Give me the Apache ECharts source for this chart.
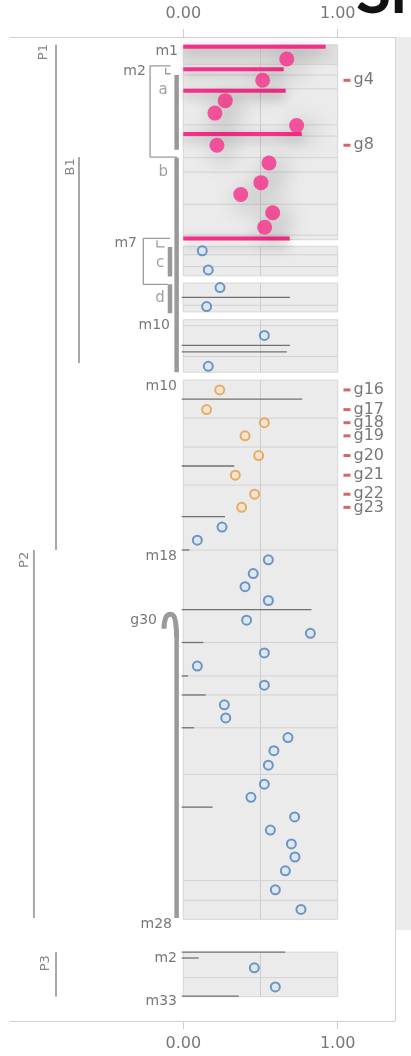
<!DOCTYPE html>
<html>
<head>
<meta charset="utf-8">
<script src="https://cdn.jsdelivr.net/npm/echarts@6/dist/echarts.min.js"></script>
<style>
html, body { margin: 0; padding: 0; background: #fff; }
#chart { width: 411px; height: 1056px; }
</style>
</head>
<body>
<div id="chart"></div>
<script>
// values; y is a row position down the track (0 = top)
const pinkX = [0.670, 0.514, 0.272, 0.205, 0.734, 0.218, 0.555, 0.503, 0.372, 0.579, 0.527];
const pinkY = [3.35, 6.6, 9.7, 11.6, 13.5, 16.5, 19.2, 22.2, 24.0, 26.8, 29.0];
const pinkBarY = [1.5, 4.9, 8.2, 14.8, 30.7];
const pinkBarEnd = [0.922, 0.65, 0.663, 0.767, 0.689];

const blueX = [0.123, 0.162, 0.238, 0.151, 0.525, 0.162, 0.251, 0.091, 0.551, 0.453, 0.4, 0.551, 0.41, 0.823, 0.525, 0.091,
  0.525, 0.266, 0.275, 0.678, 0.587, 0.551, 0.525, 0.438, 0.721, 0.564, 0.7, 0.723, 0.661, 0.596, 0.762, 0.46, 0.596];
const blueY = [32.6, 35.5, 38.2, 41.1, 45.5, 50.2, 74.7, 76.7, 79.7, 81.8, 83.8, 85.9, 88.9, 90.9, 93.9, 95.9,
  98.8, 101.8, 103.8, 106.8, 108.8, 111.0, 113.9, 115.9, 118.9, 120.9, 123.0, 125.0, 127.1, 130.0, 133.0, 141.9, 144.8];

const orangeX = [0.236, 0.151, 0.525, 0.4, 0.488, 0.337, 0.462, 0.378];
const orangeY = [53.8, 56.8, 58.8, 60.8, 63.8, 66.8, 69.7, 71.7];

const tagNames = ['g4', 'g8', 'g16', 'g17', 'g18', 'g19', 'g20', 'g21', 'g22', 'g23'];
const tagY = [6.6, 16.5, 53.8, 56.8, 58.8, 60.8, 63.8, 66.8, 69.7, 71.7];

const panelTop = [1.2, 4.2, 31.9, 37.5, 43.1, 52.3, 139.5];
const panelBottom = [4.2, 30.9, 36.4, 41.9, 51.1, 134.5, 146.3];

const gridLineY = [5.8, 7.9, 13.4, 15.1, 18.4, 20.6, 25.5, 30.2, 33.2, 35.0, 40.9, 44.0, 48.7,
  58.1, 62.5, 68.3, 78.2, 92.3, 97.4, 100.3, 105.3, 112.4, 128.6, 131.6, 143.4];
const ruleY = [39.7, 47.0, 48.0, 55.2, 65.4, 73.1, 78.2, 87.3, 92.3, 97.4, 100.3, 105.3, 117.4, 139.5, 140.4, 146.2];
const ruleEnd = [0.69, 0.69, 0.67, 0.77, 0.33, 0.27, 0.04, 0.83, 0.13, 0.03, 0.145, 0.07, 0.19, 0.66, 0.1, 0.36];

const rowLabels = ['m1', 'm2', 'm7', 'm10', 'm10', 'm18', 'g30', 'm28', 'm2', 'm33'];
const rowLabelY = [2.2, 5.2, 31.4, 43.9, 53.2, 79.1, 89.0, 135.3, 140.4, 147.0];
const rowLabelX = [-0.034, -0.242, -0.30, -0.086, -0.041, -0.041, -0.17, -0.073, -0.041, -0.041];

const clusterLabels = ['a', 'b', 'c', 'd'];
const clusterY = [8.1, 20.6, 34.5, 39.8];
const clusterX = [-0.13, -0.13, -0.15, -0.15];

const partLabels = ['P1', 'B1', 'P2', 'P3'];
const partLabelX = [-0.906, -0.727, -1.025, -0.894];
const partLabelY = [2.3, 19.8, 79.7, 141.2];
const partLineX = [-0.824, -0.675, -0.967, -0.824];
const partFrom = [1.2, 18.3, 78.2, 139.5];
const partTo = [78.2, 49.7, 134.3, 146.3];

const brackets = [
  [[-0.082, 4.4], [-0.215, 4.4], [-0.215, 18.3], [-0.04, 18.3]],
  [[-0.114, 4.7], [-0.114, 5.6], [-0.082, 5.6]],
  [[-0.086, 30.7], [-0.259, 30.7], [-0.259, 37.7], [-0.1, 37.7]],
  [[-0.17, 31.0], [-0.17, 32.0], [-0.12, 32.0]]
];
const thickBars = [
  [[-0.043, 5.8], [-0.043, 17.2]],
  [[-0.043, 18.4], [-0.043, 51.1]],
  [[-0.086, 32.0], [-0.086, 36.5]],
  [[-0.086, 37.7], [-0.086, 42.1]],
  [[-0.043, 91.0], [-0.043, 134.3]]
];
const hook = [[-0.125, 90.2], [-0.115, 88.6], [-0.08, 88.0], [-0.05, 89.2], [-0.043, 91.5]];

const FONT = 'DejaVu Sans';
const PINK = '#f72f8a';

const chart = echarts.init(document.getElementById('chart'));

function xAxisOf(pos) {
  return {
    type: 'value', position: pos, min: -1.122, max: 1.371,
    axisLine: { show: true, lineStyle: { color: '#cfcfcf' } },
    axisTick: { show: true, length: 8, customValues: [0, 1], lineStyle: { color: '#cfcfcf' } },
    axisLabel: { customValues: [0, 1], formatter: v => v.toFixed(2), color: '#777', fontFamily: FONT, fontSize: 16, margin: 15 },
    splitLine: { show: false }
  };
}

function lineSeries(pts, width, smooth) {
  return {
    type: 'line', data: pts, symbol: 'none', silent: true, smooth: !!smooth, z: 3,
    lineStyle: { color: '#9a9a9a', width: width }
  };
}

const series = [
  {
    // gray panels with a middle guide at 0.5
    type: 'custom', silent: true, z: 0,
    data: panelTop.map((t, i) => [t, panelBottom[i], i]),
    renderItem: (params, api) => {
      const a = api.coord([0, api.value(0)]);
      const b = api.coord([1, api.value(1)]);
      const m = api.coord([0.5, 0]);
      return {
        type: 'group', children: [
          { type: 'rect', shape: { x: a[0], y: a[1], width: b[0] - a[0], height: b[1] - a[1] },
            style: { fill: api.value(2) === 0 ? '#dedede' : '#ebebeb', stroke: '#d6d6d6', lineWidth: 1 } },
          { type: 'line', shape: { x1: m[0], y1: a[1], x2: m[0], y2: b[1] }, style: { stroke: '#cdcdcd', lineWidth: 1 } }
        ]
      };
    }
  },
  {
    type: 'custom', silent: true, z: 1,
    data: gridLineY.map(y => [1, y]),
    renderItem: (params, api) => {
      const a = api.coord([0, api.value(1)]);
      const b = api.coord([api.value(0), api.value(1)]);
      return { type: 'line', shape: { x1: a[0], y1: a[1], x2: b[0], y2: b[1] }, style: { stroke: '#d2d2d2', lineWidth: 1 } };
    }
  },
  {
    type: 'custom', silent: true, z: 2,
    data: ruleY.map((y, i) => [ruleEnd[i], y]),
    renderItem: (params, api) => {
      const a = api.coord([-0.01, api.value(1)]);
      const b = api.coord([api.value(0), api.value(1)]);
      return { type: 'line', shape: { x1: a[0], y1: a[1], x2: b[0], y2: b[1] }, style: { stroke: '#707070', lineWidth: 1.3 } };
    }
  },
  {
    type: 'custom', silent: true, z: 4,
    data: pinkBarY.map((y, i) => [pinkBarEnd[i], y]),
    renderItem: (params, api) => {
      const a = api.coord([0, api.value(1)]);
      const b = api.coord([api.value(0), api.value(1)]);
      return { type: 'line', shape: { x1: a[0], y1: a[1], x2: b[0], y2: b[1] },
        style: { stroke: PINK, lineWidth: 4, shadowBlur: 12, shadowColor: 'rgba(0,0,0,0.3)', shadowOffsetY: 4 } };
    }
  },
  {
    type: 'custom', silent: true, z: 3,
    data: partLineX.map((x, i) => [x, partFrom[i], partTo[i]]),
    renderItem: (params, api) => {
      const a = api.coord([api.value(0), api.value(1)]);
      const b = api.coord([api.value(0), api.value(2)]);
      return { type: 'line', shape: { x1: a[0], y1: a[1], x2: b[0], y2: b[1] }, style: { stroke: '#a8a8a8', lineWidth: 2 } };
    }
  },
  ...brackets.map(b => lineSeries(b, 1.3)),
  ...thickBars.map(b => lineSeries(b, 4.5)),
  lineSeries(hook, 5, true),
  {
    type: 'scatter', z: 6, symbolSize: 15,
    data: pinkX.map((x, i) => [x, pinkY[i]]),
    itemStyle: { color: PINK, shadowBlur: 24, shadowColor: 'rgba(0,0,0,0.5)', shadowOffsetX: 6, shadowOffsetY: 6 }
  },
  {
    type: 'scatter', z: 6, symbolSize: 9,
    data: blueX.map((x, i) => [x, blueY[i]]),
    itemStyle: { color: '#d8e6f4', borderColor: '#4f80b8', borderWidth: 2 }
  },
  {
    type: 'scatter', z: 6, symbolSize: 9,
    data: orangeX.map((x, i) => [x, orangeY[i]]),
    itemStyle: { color: '#f9e5c8', borderColor: '#e39c4a', borderWidth: 2 }
  },
  {
    type: 'scatter', z: 7, symbol: 'rect', symbolSize: [7, 3], silent: true,
    data: tagNames.map((t, i) => ({ name: t, value: [1.06, tagY[i]] })),
    itemStyle: { color: '#cf3f3f' },
    label: { show: true, position: 'right', distance: 3, formatter: '{b}', color: '#555', fontFamily: FONT, fontSize: 16, lineHeight: 17 },
    labelLayout: { moveOverlap: 'shiftY' }
  },
  {
    type: 'scatter', z: 7, symbolSize: 0, silent: true,
    data: rowLabels.map((t, i) => ({ name: t, value: [rowLabelX[i], rowLabelY[i]] })),
    label: { show: true, position: 'left', distance: 0, formatter: '{b}', color: '#555', fontFamily: FONT, fontSize: 14 }
  },
  {
    type: 'scatter', z: 7, symbolSize: 0, silent: true,
    data: clusterLabels.map((t, i) => ({ name: t, value: [clusterX[i], clusterY[i]] })),
    label: { show: true, position: 'inside', formatter: '{b}', color: '#8a8a8a', fontFamily: FONT, fontSize: 15 }
  },
  {
    type: 'scatter', z: 7, symbolSize: 0, silent: true,
    data: partLabels.map((t, i) => ({ name: t, value: [partLabelX[i], partLabelY[i]] })),
    label: { show: true, position: 'inside', rotate: 90, formatter: '{b}', color: '#666', fontFamily: FONT, fontSize: 13 }
  }
];

chart.setOption({
  animation: false,
  grid: { left: 10, right: 16, top: 37, bottom: 35 },
  xAxis: [xAxisOf('top'), xAxisOf('bottom')],
  yAxis: { type: 'value', inverse: true, min: 0, max: 150, show: false },
  graphic: [
    { type: 'rect', shape: { x: 395, y: 37, width: 16, height: 893 }, style: { fill: '#ececec' }, z: -1 },
    { type: 'line', shape: { x1: 395.5, y1: 37, x2: 395.5, y2: 1021 }, style: { stroke: '#d4d4d4', lineWidth: 1 } },
    { type: 'text', x: 356, y: 24, style: { text: 'Sl', font: 'bold 64px Lato', fill: '#111', verticalAlign: 'bottom' } }
  ],
  series: series
});
</script>
</body>
</html>
